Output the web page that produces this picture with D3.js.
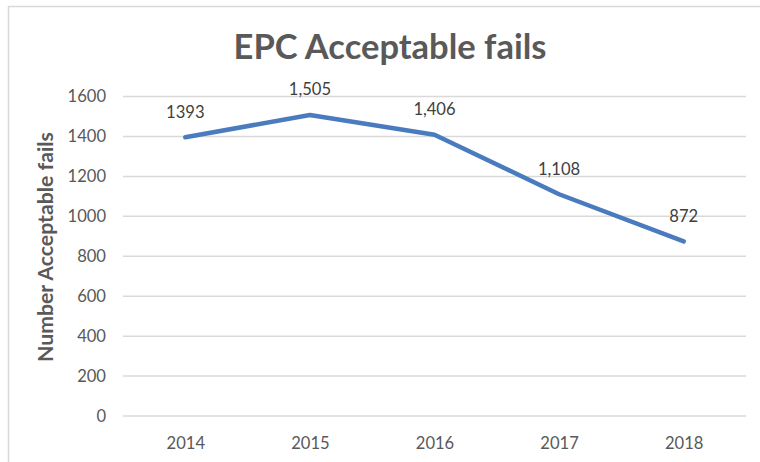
<!DOCTYPE html>
<html><head><meta charset="utf-8">
<script src="https://cdn.jsdelivr.net/npm/d3@7"></script>
<style>
html,body{margin:0;padding:0;background:#fff;}
svg text{font-family:Lato,"Open Sans",sans-serif;}
</style></head>
<body>
<svg id="chart" width="760" height="462"></svg>
<script>
const title = "EPC Acceptable fails";
const yAxisTitle = "Number Acceptable fails";
const years = ["2014","2015","2016","2017","2018"];
const values = [1393,1505,1406,1108,872];
const valueLabels = ["1393","1,505","1,406","1,108","872"];
const yTicks = [0,200,400,600,800,1000,1200,1400,1600];

const svg = d3.select("#chart");
const W = 760, H = 462;
const m = {left:123, right:14, top:96, bottom:46.5};
const x = d3.scalePoint().domain(years).range([m.left, W - m.right]).padding(0.5);
const y = d3.scaleLinear().domain([0,1600]).range([H - m.bottom, m.top]);

// measure font size so a 4-digit number is ~38.5px wide
const probe = svg.append("text").style("font-size","20px").text("2014");
const fs = (20*38.5/probe.node().getComputedTextLength()).toFixed(2)+"px";
probe.remove();

// frame
svg.append("path").attr("d", `M8.5,${H} V6.5 H${W}`).attr("fill","none").attr("stroke","#d9d9d9").attr("stroke-width",1.5);

// gridlines
const yAxis = d3.axisLeft(y).tickValues(yTicks).tickSize(-(W - m.left - m.right)).tickPadding(17).tickFormat(d3.format("d"));
const gy = svg.append("g").attr("transform",`translate(${m.left},0)`).call(yAxis);
gy.select(".domain").remove();
gy.selectAll(".tick line").attr("stroke","#d9d9d9").attr("stroke-width",1.5);
gy.selectAll(".tick text").attr("fill","#595959").style("font-size",fs).attr("dy","0.34em");

const xAxis = d3.axisBottom(x).tickSize(0).tickPadding(22);
const gx = svg.append("g").attr("transform",`translate(0,${H - m.bottom})`).call(xAxis);
gx.select(".domain").remove();
gx.selectAll(".tick text").attr("fill","#595959").style("font-size",fs);

// line
const line = d3.line().x((d,i)=>x(years[i])).y(d=>y(d));
svg.append("path").datum(values).attr("d", line).attr("fill","none")
  .attr("stroke","#4a7bbf").attr("stroke-width",4.5).attr("stroke-linejoin","round").attr("stroke-linecap","round");

// data labels
svg.append("g").selectAll("text").data(values).join("text")
  .attr("x",(d,i)=>x(years[i])).attr("y",d=>y(d)-19.5)
  .attr("text-anchor","middle").attr("fill","#404040").style("font-size",fs)
  .text((d,i)=>valueLabels[i]);

// title
const t = svg.append("text").attr("x",390).attr("y",59).attr("text-anchor","middle")
  .attr("fill","#595959").style("font-size","32px").style("font-weight","bold").text(title);
const tw = t.node().getComputedTextLength();
t.style("font-size", (32*313/tw).toFixed(2)+"px");

// y axis title
const yt = svg.append("text").attr("transform","translate(53,247) rotate(-90)").attr("text-anchor","middle")
  .attr("fill","#595959").style("font-size","15.5px").style("font-weight","bold").text(yAxisTitle);
const yw = yt.node().getComputedTextLength();
yt.style("font-size", (15.5*230/yw).toFixed(2)+"px");
</script>
</body></html>
